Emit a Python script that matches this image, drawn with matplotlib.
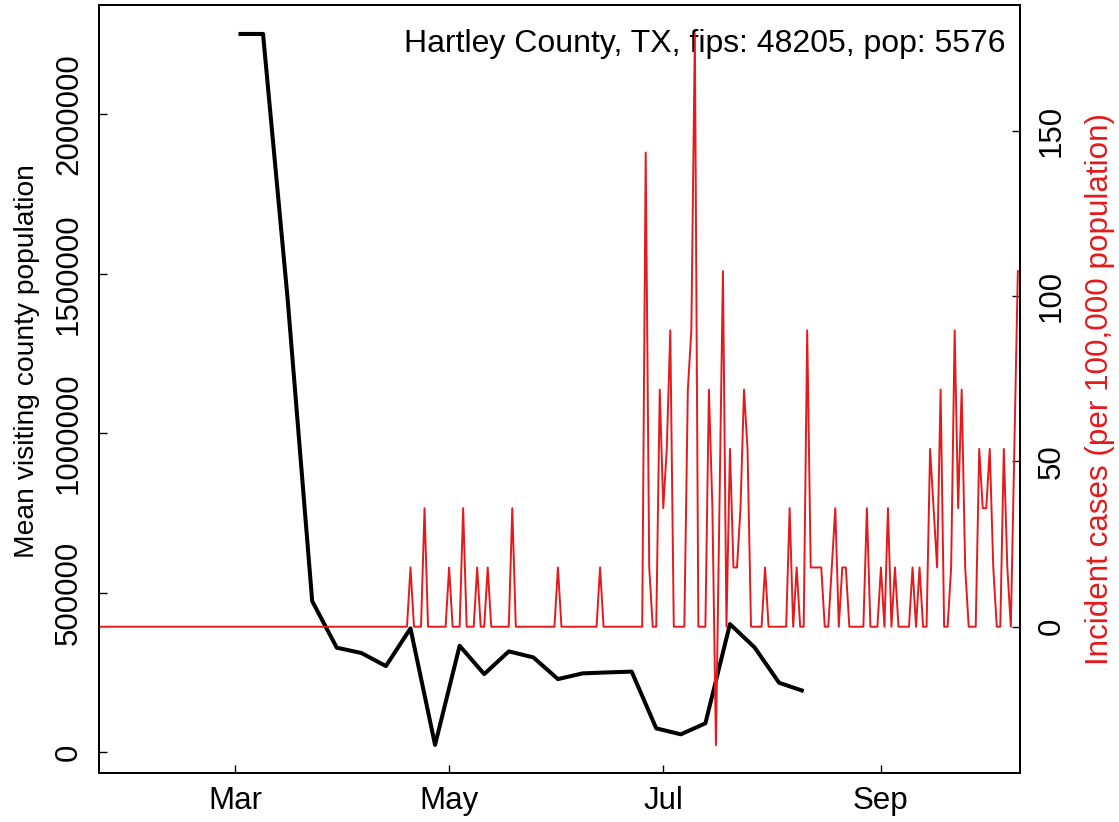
import numpy as np
import pandas as pd
import matplotlib
matplotlib.use("Agg")
import matplotlib.pyplot as plt
import matplotlib.dates as mdates

plt.rcParams['font.family'] = ['Liberation Sans', 'DejaVu Sans']

county_label = "Hartley County, TX, fips: 48205, pop: 5576"
county_pop = 5576

# weekly mean visiting population (Mondays, Mar 2 - Aug 10)
visit_dates = pd.date_range("2020-03-02", "2020-08-10", freq="7D")
visit_pop = [2251900, 2251900, 1422000, 474000, 328000, 311400, 270400,
             388500, 23300, 334000, 245300, 316400, 297600, 229600,
             247500, 250500, 253000, 75200, 56400, 90900, 402000,
             329000, 218000, 192000]

# daily new cases, Jan 22 - Oct 10 (none before Apr 20)
new_cases = [0] * 89 + [
    1, 0, 0, 0, 2, 0, 0, 0, 0, 0,     # Apr 20
    0, 1, 0, 0, 0, 2, 0, 0, 0, 1,
    0, 0, 1, 0, 0, 0, 0, 0, 0, 2,
    0, 0, 0, 0, 0, 0, 0, 0, 0, 0,
    0, 0, 1, 0, 0, 0, 0, 0, 0, 0,
    0, 0, 0, 0, 1, 0, 0, 0, 0, 0,
    0, 0, 0, 0, 0, 0, 0, 8, 1, 0,
    0, 4, 2, 3, 5, 0, 0, 0, 0, 4,
    5, 10, 0, 0, 0, 4, 2, -2, 2, 6,
    0, 3, 1, 1, 2, 4, 3, 0, 0, 0,
    0, 1, 0, 0, 0, 0, 0, 0, 2, 0,
    1, 0, 0, 5, 1, 1, 1, 1, 0, 0,
    1, 2, 0, 1, 1, 0, 0, 0, 0, 0,
    2, 0, 0, 0, 1, 0, 2, 0, 1, 0,
    0, 0, 0, 1, 0, 1, 0, 0, 3, 2,
    1, 4, 0, 0, 1, 5, 2, 4, 1, 0,
    0, 0, 3, 2, 2, 3, 1, 0, 0, 3,
    1, 0, 3, 6,
]
case_dates = pd.date_range("2020-01-22", periods=len(new_cases), freq="D")
incidence = np.array(new_cases) * 100000 / county_pop

red = '#E41A1C'
fs = 22.5

fig = plt.figure(figsize=(11.19, 8.22), dpi=100)
ax = fig.add_axes([0.0887, 0.0592, 0.8231, 0.9347])

ax.plot(visit_dates, visit_pop, color='black', lw=2.9, solid_capstyle='butt')
ax.set_ylim(-65830, 2342600)
ax.set_yticks([0, 500000, 1000000, 1500000, 2000000])
ax.set_yticklabels(['0', '500000', '1000000', '1500000', '2000000'])
ax.set_xlim(mdates.date2num(pd.Timestamp("2020-01-22")) + 0.35,
            mdates.date2num(pd.Timestamp("2020-10-10")) + 0.7)
ax.xaxis.set_major_locator(mdates.MonthLocator(bymonth=[3, 5, 7, 9]))
ax.xaxis.set_major_formatter(mdates.DateFormatter('%b'))
ax.tick_params(direction='in', length=5.5, width=1.0, labelsize=fs)
ax.tick_params(axis='x', pad=9)
ax.tick_params(axis='y', pad=11, labelrotation=90)
for lab in ax.get_yticklabels():
    lab.set_va('center')
ax.set_ylabel("Mean visiting county population", fontsize=20.3, va='center')
ax.yaxis.set_label_coords(-0.078, 0.5366)

ax2 = ax.twinx()
ax2.plot(case_dates, incidence, color=red, lw=1.4)
ax2.set_ylim(-44.36, 188.12)
ax2.set_yticks([0, 50, 100, 150])
ax2.tick_params(direction='in', length=5.5, width=1.0, labelsize=fs, pad=12,
                labelrotation=90)
for lab in ax2.get_yticklabels():
    lab.set_va('center')
ax2.set_ylabel("Incident cases (per 100,000 population)", fontsize=22.6,
               color=red, va='center')
ax2.yaxis.set_label_coords(1.0865, 0.5)

for a in (ax, ax2):
    for s in a.spines.values():
        s.set_linewidth(1.4)

ax.text(0.9834, 0.9499, county_label, transform=ax.transAxes, ha='right',
        va='center', fontsize=23, zorder=5)

fig.savefig("out.png", dpi=100)
